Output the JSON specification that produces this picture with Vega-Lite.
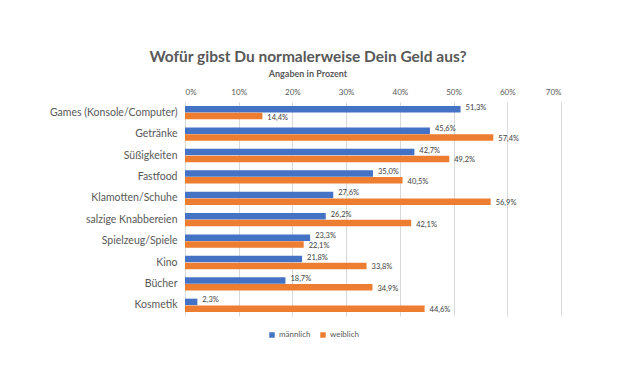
{
  "$schema": "https://vega.github.io/schema/vega-lite/v6.json",
  "autosize": {"type": "none"},
  "width": 376,
  "height": 214,
  "padding": {"left": 185, "top": 102, "right": 69, "bottom": 54},
  "background": "white",
  "title": {
    "text": "Wofür gibst Du normalerweise Dein Geld aus?",
    "subtitle": "Angaben in Prozent",
    "anchor": "middle",
    "frame": "group",
    "dx": -65,
    "offset": 9,
    "font": "Lato",
    "fontSize": 15.5,
    "fontWeight": "bold",
    "color": "#595959",
    "subtitleFont": "Lato",
    "subtitleFontSize": 9,
    "subtitleFontWeight": "bold",
    "subtitleColor": "#595959",
    "subtitlePadding": 5
  },
  "data": {
    "values": [
      {"cat": "Games (Konsole/Computer)", "g": "männlich", "v": 0.513},
      {"cat": "Games (Konsole/Computer)", "g": "weiblich", "v": 0.144},
      {"cat": "Getränke", "g": "männlich", "v": 0.456},
      {"cat": "Getränke", "g": "weiblich", "v": 0.574},
      {"cat": "Süßigkeiten", "g": "männlich", "v": 0.427},
      {"cat": "Süßigkeiten", "g": "weiblich", "v": 0.492},
      {"cat": "Fastfood", "g": "männlich", "v": 0.350},
      {"cat": "Fastfood", "g": "weiblich", "v": 0.405},
      {"cat": "Klamotten/Schuhe", "g": "männlich", "v": 0.276},
      {"cat": "Klamotten/Schuhe", "g": "weiblich", "v": 0.569},
      {"cat": "salzige Knabbereien", "g": "männlich", "v": 0.262},
      {"cat": "salzige Knabbereien", "g": "weiblich", "v": 0.421},
      {"cat": "Spielzeug/Spiele", "g": "männlich", "v": 0.233},
      {"cat": "Spielzeug/Spiele", "g": "weiblich", "v": 0.221},
      {"cat": "Kino", "g": "männlich", "v": 0.218},
      {"cat": "Kino", "g": "weiblich", "v": 0.338},
      {"cat": "Bücher", "g": "männlich", "v": 0.187},
      {"cat": "Bücher", "g": "weiblich", "v": 0.349},
      {"cat": "Kosmetik", "g": "männlich", "v": 0.023},
      {"cat": "Kosmetik", "g": "weiblich", "v": 0.446}
    ]
  },
  "encoding": {
    "y": {
      "field": "cat",
      "type": "nominal",
      "sort": null,
      "title": null,
      "scale": {"paddingInner": 0.38, "paddingOuter": 0.19},
      "axis": {
        "domain": false,
        "ticks": false,
        "labelPadding": 8,
        "labelFont": "Lato",
        "labelFontSize": 10.5,
        "labelColor": "#595959",
        "labelLimit": 200
      }
    },
    "yOffset": {
      "field": "g",
      "type": "nominal",
      "sort": ["männlich", "weiblich"],
      "scale": {"paddingInner": 0.05}
    },
    "x": {
      "field": "v",
      "type": "quantitative",
      "title": null,
      "scale": {"domain": [0, 0.7], "nice": false},
      "axis": {
        "orient": "top",
        "format": ".0%",
        "values": [0, 0.1, 0.2, 0.3, 0.4, 0.5, 0.6, 0.7],
        "domain": false,
        "ticks": false,
        "grid": true,
        "gridColor": "#d9d9d9",
        "gridWidth": 1,
        "labelPadding": 6,
        "labelFont": "Lato",
        "labelFontSize": 8,
        "labelColor": "#595959"
      }
    }
  },
  "layer": [
    {
      "mark": {"type": "bar"},
      "encoding": {
        "color": {
          "field": "g",
          "type": "nominal",
          "scale": {"domain": ["männlich", "weiblich"], "range": ["#4472C4", "#ED7D31"]},
          "legend": {
            "title": null,
            "orient": "none",
            "legendX": 83,
            "legendY": 229,
            "direction": "horizontal",
            "symbolType": "square",
            "symbolSize": 30,
            "labelFont": "Lato",
            "labelFontSize": 8,
            "labelColor": "#595959",
            "columnPadding": 8,
            "labelOffset": 3
          }
        }
      }
    },
    {
      "transform": [{"filter": "datum.g === 'männlich'"}],
      "mark": {"type": "text", "align": "left", "baseline": "middle", "dx": 5, "dy": -1.5, "font": "Lato", "fontSize": 7.5, "color": "#404040"},
      "encoding": {
        "text": {"field": "v", "type": "quantitative", "format": ".1%"}
      }
    },
    {
      "transform": [{"filter": "datum.g === 'weiblich'"}],
      "mark": {"type": "text", "align": "left", "baseline": "middle", "dx": 5, "dy": 1.5, "font": "Lato", "fontSize": 7.5, "color": "#404040"},
      "encoding": {
        "text": {"field": "v", "type": "quantitative", "format": ".1%"}
      }
    }
  ],
  "config": {
    "view": {"stroke": null},
    "locale": {
      "number": {"decimal": ",", "thousands": ".", "grouping": [3], "currency": ["", " €"]}
    }
  }
}
